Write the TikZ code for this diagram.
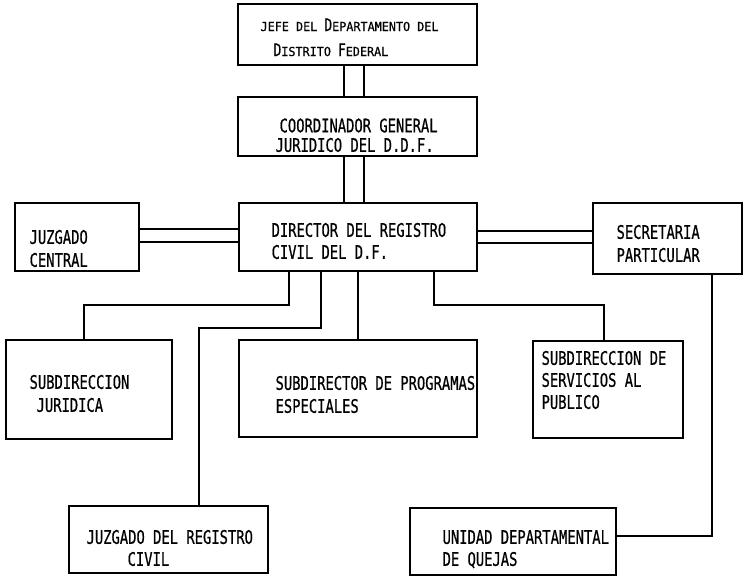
\documentclass[tikz,border=0pt]{standalone}
\usepackage{fontspec}
\newfontfamily\tw[FakeStretch=0.74,FakeBold=0.6]{DejaVu Sans Mono}
\newfontfamily\twsm[FakeStretch=0.95,FakeBold=0.5]{DejaVu Sans Mono}
\usetikzlibrary{fit}
\newcommand\Bg[1]{{\fontsize{13}{15}\selectfont\tw #1}}
\newcommand\Sm[1]{{\fontsize{9.3}{10}\selectfont\twsm #1}}
\begin{document}
\begin{tikzpicture}[x=0.75pt,y=-0.75pt,line width=0.9pt,
  box/.style={draw, inner sep=0pt},
  lbl/.style={anchor=base west, inner sep=0pt, font=\fontsize{14}{16}\selectfont\tw}]
\useasboundingbox (0,0) rectangle (743,576);
% boxes
\node[box, fit={(238,4) (477,65)}] (jefe) {};
\node[box, fit={(238,97) (477,156)}] (coord) {};
\node[box, fit={(239,203) (477,271)}] (dir) {};
\node[box, fit={(15,203) (139,271)}] (jc) {};
\node[box, fit={(593,203) (742,274)}] (sec) {};
\node[box, fit={(6,340) (172,439)}] (sj) {};
\node[box, fit={(239,340) (477,437)}] (sp) {};
\node[box, fit={(533,341) (683,438)}] (ss) {};
\node[box, fit={(69,506) (268,573)}] (jr) {};
\node[box, fit={(410,508) (616,575)}] (ud) {};
% texts
\node[lbl] (t1a) at (260,31) {\Sm{JEFE DEL }\Bg{D}\Sm{EPARTAMENTO DEL}};
\node[lbl] (t1b) at (273,56) {\Bg{D}\Sm{ISTRITO }\Bg{F}\Sm{EDERAL}};
\node[lbl] (t2a) at (279,132.3) {COORDINADOR GENERAL};
\node[lbl] (t2b) at (275,151.8) {JURIDICO DEL D.D.F.};
\node[lbl] (t3a) at (271,236.8) {DIRECTOR DEL REGISTRO};
\node[lbl] (t3b) at (271,258.8) {CIVIL DEL D.F.};
\node[lbl] (t4a) at (29,243.8) {JUZGADO};
\node[lbl] (t4b) at (29,266.8) {CENTRAL};
\node[lbl] (t5a) at (616,238.8) {SECRETARIA};
\node[lbl] (t5b) at (616,261.8) {PARTICULAR};
\node[lbl] (t6a) at (29,388.8) {SUBDIRECCION};
\node[lbl] (t6b) at (36,411.8) {JURIDICA};
\node[lbl] (t7a) at (275,389.8) {SUBDIRECTOR DE PROGRAMAS};
\node[lbl] (t7b) at (275,412.8) {ESPECIALES};
\node[lbl] (t8a) at (541,364.8) {SUBDIRECCION DE};
\node[lbl] (t8b) at (541,386.8) {SERVICIOS AL};
\node[lbl] (t8c) at (541,408.8) {PUBLICO};
\node[lbl] (t9a) at (86,543.8) {JUZGADO DEL REGISTRO};
\node[lbl] (t9b) at (127,565.8) {CIVIL};
\node[lbl] (t10a) at (442,543.8) {UNIDAD DEPARTAMENTAL};
\node[lbl] (t10b) at (442,565.8) {DE QUEJAS};
% helper coordinates
\coordinate (vA) at (344,0);
\coordinate (vB) at (364,0);
\coordinate (hL1) at (0,229);
\coordinate (hL2) at (0,242);
\coordinate (hR1) at (0,231);
\coordinate (hR2) at (0,243);
\coordinate (p1) at (289,305);
\coordinate (p1b) at (84,305);
\coordinate (p2) at (321,328);
\coordinate (p2b) at (199,328);
\coordinate (p3) at (358,0);
\coordinate (p4) at (434,305);
\coordinate (p4b) at (604,305);
\coordinate (p5) at (712,536);
% connectors
\draw (jefe.south -| vA) -- (coord.north -| vA);
\draw (jefe.south -| vB) -- (coord.north -| vB);
\draw (coord.south -| vA) -- (dir.north -| vA);
\draw (coord.south -| vB) -- (dir.north -| vB);
\draw (jc.east |- hL1) -- (dir.west |- hL1);
\draw (jc.east |- hL2) -- (dir.west |- hL2);
\draw (dir.east |- hR1) -- (sec.west |- hR1);
\draw (dir.east |- hR2) -- (sec.west |- hR2);
\draw (dir.south -| p1) -- (p1) -- (p1b) -- (sj.north -| p1b);
\draw (dir.south -| p2) -- (p2) -- (p2b) -- (jr.north -| p2b);
\draw (dir.south -| p3) -- (sp.north -| p3);
\draw (dir.south -| p4) -- (p4) -- (p4b) -- (ss.north -| p4b);
\draw (sec.south -| p5) -- (p5) -- (ud.east |- p5);
\end{tikzpicture}
\end{document}
